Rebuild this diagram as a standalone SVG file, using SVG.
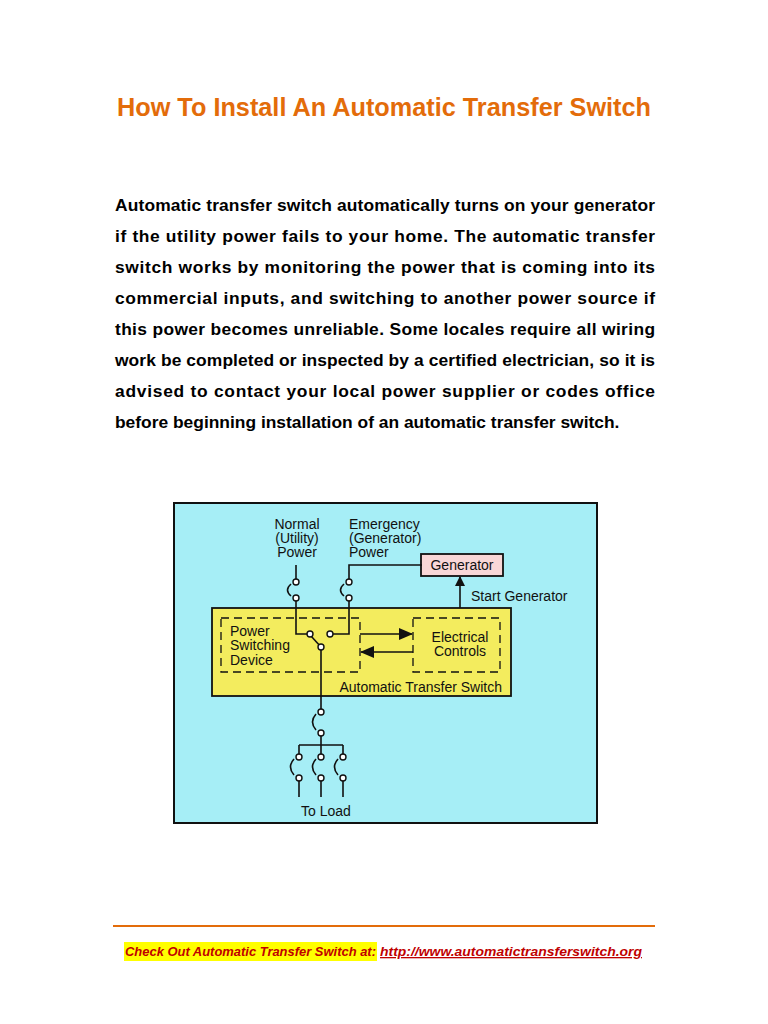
<svg xmlns="http://www.w3.org/2000/svg" width="768" height="1024" viewBox="0 0 768 1024">
<style>
.p{font-family:"Liberation Sans",Arial,sans-serif;font-weight:bold;font-size:17.4px;fill:#000}
.d{font-family:"Liberation Sans",Arial,sans-serif;font-size:14px;fill:#111}
.w{stroke:#111;stroke-width:1.6;fill:none}
.c{fill:#fff;stroke:#111;stroke-width:1.4}
.dash{fill:none;stroke:#111;stroke-width:1.3;stroke-dasharray:8,5}
</style>
<defs>
<marker id="ah" markerWidth="10" markerHeight="10" refX="9" refY="5" orient="auto" markerUnits="userSpaceOnUse"><path d="M0,0 L10,5 L0,10 z" fill="#111"/></marker>
<marker id="ah2" markerWidth="14" markerHeight="14" refX="13" refY="7" orient="auto" markerUnits="userSpaceOnUse"><path d="M0,1 L14,7 L0,13 z" fill="#111"/></marker>
</defs>
<rect width="768" height="1024" fill="#fff"/>
<text x="384" y="116" text-anchor="middle" font-family="Liberation Sans,Arial,sans-serif" font-weight="bold" font-size="25" fill="#e36c0a" textLength="534" lengthAdjust="spacingAndGlyphs">How To Install An Automatic Transfer Switch</text>
<g class="p">
<text x="115" y="211" textLength="540" lengthAdjust="spacing">Automatic transfer switch automatically turns on your generator</text>
<text x="115" y="242" textLength="540" lengthAdjust="spacing">if the utility power fails to your home. The automatic transfer</text>
<text x="115" y="273" textLength="540" lengthAdjust="spacing">switch works by monitoring the power that is coming into its</text>
<text x="115" y="304" textLength="540" lengthAdjust="spacing">commercial inputs, and switching to another power source if</text>
<text x="115" y="335" textLength="540" lengthAdjust="spacing">this power becomes unreliable. Some locales require all wiring</text>
<text x="115" y="366" textLength="540" lengthAdjust="spacing">work be completed or inspected by a certified electrician, so it is</text>
<text x="115" y="397" textLength="540" lengthAdjust="spacing">advised to contact your local power supplier or codes office</text>
<text x="115" y="428">before beginning installation of an automatic transfer switch.</text>
</g>
<rect x="174" y="503" width="423" height="320" fill="#a6eef6" stroke="#111" stroke-width="2"/>
<g id="ats"><rect x="212" y="608" width="299" height="88" fill="#f3ec5e" stroke="#111" stroke-width="1.8"/>
<text class="d" x="502" y="692" text-anchor="end">Automatic Transfer Switch</text></g>
<g id="psd"><rect class="dash" x="221" y="618" width="139" height="54"/>
<text class="d" x="230" y="636">Power</text><text class="d" x="230" y="650">Switching</text><text class="d" x="230" y="665">Device</text></g>
<g id="ec"><rect class="dash" x="413" y="618" width="87" height="54" stroke-width="2"/>
<text class="d" x="460" y="642" text-anchor="middle">Electrical</text><text class="d" x="460" y="656" text-anchor="middle">Controls</text></g>
<g id="gen"><rect x="421" y="554" width="82" height="22" fill="#f9d7d7" stroke="#111" stroke-width="1.8"/>
<text class="d" x="462" y="570" text-anchor="middle">Generator</text></g>
<g id="labels" class="d">
<text x="297" y="529" text-anchor="middle">Normal</text><text x="297" y="543" text-anchor="middle">(Utility)</text><text x="297" y="557" text-anchor="middle">Power</text>
<text x="349" y="529">Emergency</text><text x="349" y="543">(Generator)</text><text x="349" y="557">Power</text>
<text x="471" y="601">Start Generator</text>
<text x="326" y="816" text-anchor="middle">To Load</text>
</g>
<g id="connectors">
<path class="w" d="M296,565 V582 M296,598 V634 H308"/>
<path class="w" d="M291,584 Q284,590 291,596"/>
<path class="w" d="M422,565 H349 V582 M349,598 V634 H332" stroke-width="1.6"/>
<path class="w" d="M344,584 Q337,590 344,596"/>
<path class="w" d="M321,647 L311,636"/>
<path class="w" d="M321,649 V710 M321,735 V745 M299,745 H343 M299,745 V755 M321,745 V755 M343,745 V755 M299,780 V797 M321,780 V797 M343,780 V797"/>
<path class="w" d="M316,714 Q309,722 316,730 M294,759 Q287,767 294,775 M316,759 Q309,767 316,775 M338,759 Q331,767 338,775"/>
<path class="w" d="M360,634 H412" marker-end="url(#ah2)"/>
<path class="w" d="M413,652 H361" marker-end="url(#ah2)"/>
<path class="w" d="M460,608 V577" stroke-width="2" marker-end="url(#ah)"/>
<circle class="c" cx="296" cy="582" r="3"/><circle class="c" cx="296" cy="598" r="3"/>
<circle class="c" cx="349" cy="582" r="3"/><circle class="c" cx="349" cy="598" r="3"/>
<circle class="c" cx="310" cy="634" r="3"/><circle class="c" cx="330" cy="634" r="3"/><circle class="c" cx="321" cy="647" r="3"/>
<circle class="c" cx="321" cy="712" r="3"/><circle class="c" cx="321" cy="733" r="3"/>
<circle class="c" cx="299" cy="757" r="3"/><circle class="c" cx="299" cy="778" r="3"/>
<circle class="c" cx="321" cy="757" r="3"/><circle class="c" cx="321" cy="778" r="3"/>
<circle class="c" cx="343" cy="757" r="3"/><circle class="c" cx="343" cy="778" r="3"/>
</g>
<line x1="113" y1="926" x2="655" y2="926" stroke="#e36c0a" stroke-width="2"/>
<rect x="124" y="942" width="253" height="19" fill="#ffff00"/>
<text x="125" y="956" font-family="Liberation Sans,Arial,sans-serif" font-weight="bold" font-style="italic" font-size="13" fill="#c00000" textLength="251" lengthAdjust="spacingAndGlyphs">Check Out Automatic Transfer Switch at:</text>
<text x="380" y="956" font-family="Liberation Sans,Arial,sans-serif" font-weight="bold" font-style="italic" font-size="13" fill="#c00000" text-decoration="underline" textLength="262" lengthAdjust="spacingAndGlyphs">http://www.automatictransferswitch.org</text>
</svg>
